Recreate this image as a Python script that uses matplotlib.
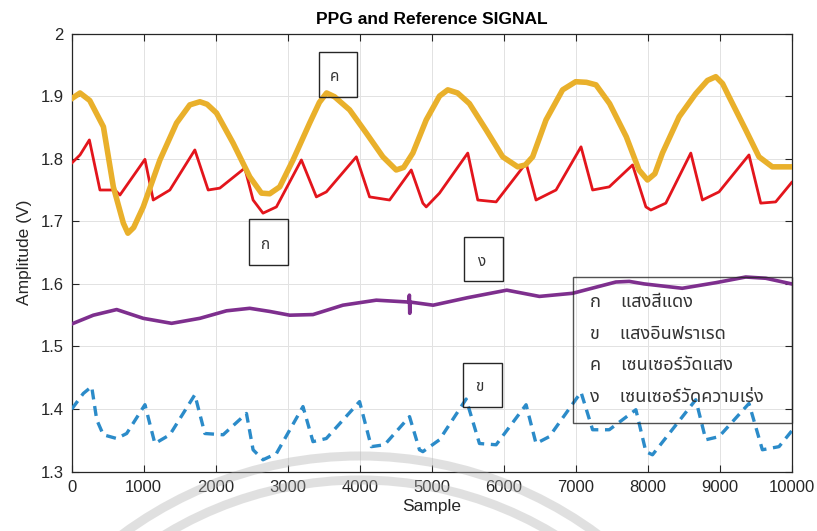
import matplotlib

matplotlib.use("Agg")
import matplotlib.pyplot as plt
from matplotlib import font_manager
from matplotlib.patches import Circle, Rectangle

# Fonts: Latin text in an Arial-like face, Thai glyphs from whatever Thai font is installed
installed = {f.name for f in font_manager.fontManager.ttflist}
thai_candidates = ["Noto Sans Thai", "Noto Sans Thai Looped", "Noto Serif Thai", "Loma",
                   "Garuda", "Norasi", "Kinnari", "Sarabun", "Tahoma", "Leelawadee UI"]
thai_fonts = [f for f in thai_candidates if f in installed]
plt.rcParams["font.family"] = ["Liberation Sans"] + thai_fonts + ["DejaVu Sans"]

# ---- data ----
red_x = [0, 115, 245, 392, 600, 670, 1017, 1132, 1363, 1710, 1895, 2057, 2404, 2519,
         2657, 2843, 3190, 3398, 3537, 3953, 4137, 4415, 4716, 4877, 4924, 5108, 5501,
         5640, 5895, 6311, 6449, 6727, 7074, 7235, 7466, 7790, 7975, 8044, 8252, 8599,
         8760, 8991, 9407, 9570, 9778, 10000]
red_y = [1.793, 1.806, 1.830, 1.750, 1.750, 1.742, 1.799, 1.734, 1.750, 1.814, 1.750,
         1.753, 1.785, 1.734, 1.713, 1.723, 1.798, 1.739, 1.747, 1.803, 1.739, 1.734,
         1.782, 1.729, 1.723, 1.745, 1.809, 1.734, 1.731, 1.793, 1.734, 1.750, 1.819,
         1.750, 1.755, 1.790, 1.723, 1.718, 1.729, 1.809, 1.734, 1.747, 1.806, 1.729,
         1.731, 1.762]

blue_x = [0, 161, 277, 347, 438, 624, 763, 1017, 1155, 1363, 1710, 1849, 2103, 2427,
          2519, 2657, 2843, 3212, 3351, 3536, 3998, 4161, 4346, 4692, 4830, 4877, 5108,
          5478, 5663, 5895, 6311, 6449, 6634, 7074, 7235, 7466, 7836, 7975, 8067, 8668,
          8807, 8991, 9407, 9593, 9824, 10000]
blue_y = [1.400, 1.425, 1.436, 1.383, 1.359, 1.353, 1.361, 1.407, 1.345, 1.359, 1.423,
          1.361, 1.359, 1.393, 1.335, 1.319, 1.329, 1.404, 1.348, 1.353, 1.412, 1.340,
          1.343, 1.388, 1.335, 1.332, 1.351, 1.416, 1.345, 1.343, 1.407, 1.345, 1.356,
          1.427, 1.367, 1.367, 1.399, 1.332, 1.327, 1.415, 1.351, 1.356, 1.409, 1.335,
          1.340, 1.365]

yellow_x = [0, 115, 250, 440, 578, 717, 780, 860, 993, 1225, 1456, 1640, 1780, 1880,
            2011, 2241, 2473, 2635, 2750, 2889, 3074, 3305, 3440, 3540, 3650, 3860, 4091,
            4322, 4507, 4610, 4738, 4924, 5108, 5223, 5360, 5524, 5756, 5986, 6195, 6300,
            6402, 6588, 6818, 7000, 7150, 7282, 7471, 7703, 7879, 7997, 8100, 8205, 8437,
            8668, 8830, 8946, 9040, 9130, 9362, 9546, 9731, 10000]
yellow_y = [1.896, 1.905, 1.893, 1.851, 1.755, 1.697, 1.681, 1.690, 1.723, 1.798, 1.857,
            1.886, 1.891, 1.887, 1.873, 1.825, 1.771, 1.745, 1.744, 1.755, 1.798, 1.857,
            1.890, 1.905, 1.899, 1.878, 1.841, 1.803, 1.782, 1.786, 1.809, 1.862, 1.900,
            1.910, 1.905, 1.888, 1.846, 1.803, 1.787, 1.790, 1.803, 1.862, 1.910, 1.923,
            1.922, 1.918, 1.888, 1.835, 1.782, 1.766, 1.776, 1.809, 1.867, 1.904, 1.925,
            1.931, 1.920, 1.899, 1.846, 1.803, 1.787, 1.787]

purple_x = [0, 300, 624, 993, 1387, 1780, 2150, 2473, 2750, 3028, 3351, 3767, 4230,
            4680, 4690, 4695, 4700, 5020, 5500, 6043, 6496, 6958, 7558, 7744, 7950, 8480,
            8950, 9362, 9640, 10000]
purple_y = [1.536, 1.550, 1.559, 1.545, 1.537, 1.545, 1.557, 1.561, 1.556, 1.550, 1.551,
            1.566, 1.574, 1.571, 1.582, 1.553, 1.571, 1.566, 1.578, 1.590, 1.580, 1.585,
            1.603, 1.604, 1.600, 1.593, 1.602, 1.611, 1.609, 1.600]

series_letters = ["ก", "ข", "ค", "ง"]
series_names = ["แสงสีแดง", "แสงอินฟราเรด", "เซนเซอร์วัดแสง", "เซนเซอร์วัดความเร่ง"]

# annotation boxes: letter, x0, x1, y0, y1 (data units)
note_boxes = [("ค", 3430, 3957, 1.898, 1.971),
              ("ก", 2463, 3010, 1.630, 1.703),
              ("ง", 5454, 5996, 1.604, 1.675),
              ("ข", 5441, 5982, 1.403, 1.474)]

fig = plt.figure(figsize=(8.17, 5.31), dpi=100)
ax = fig.add_axes([0.0878, 0.1117, 0.8812, 0.8252])

l_red, = ax.plot(red_x, red_y, color="#E3151C", lw=2.0, zorder=3)
l_blue, = ax.plot(blue_x, blue_y, color="#2B8BC9", lw=2.4, ls=(0, (3, 2)), zorder=3)
l_yel, = ax.plot(yellow_x, yellow_y, color="#E9B02B", lw=4.0, zorder=3,
                 solid_joinstyle="round")
l_pur, = ax.plot(purple_x, purple_y, color="#7E2F8E", lw=2.6, zorder=3)

ax.set_xlim(0, 10000)
ax.set_ylim(1.3, 2.0)
ax.set_xticks(range(0, 10001, 1000))
ax.set_yticks([1.3, 1.4, 1.5, 1.6, 1.7, 1.8, 1.9, 2.0])
ax.set_yticklabels(["1.3", "1.4", "1.5", "1.6", "1.7", "1.8", "1.9", "2"])
ax.grid(True, color="#e2e2e2", lw=0.7)
ax.set_axisbelow(True)
ax.tick_params(direction="in", top=True, right=True, length=5, width=0.8,
               colors="#262626", labelsize=12, pad=6)
for sp in ax.spines.values():
    sp.set_color("#262626")
    sp.set_linewidth(0.9)

ax.set_xlabel("Sample", fontsize=12.5, color="#262626", labelpad=3)
ax.set_ylabel("Amplitude (V)", fontsize=12.5, color="#262626", labelpad=6)
ax.set_title("PPG and Reference SIGNAL", fontsize=12.5, fontweight="bold", pad=7)

for letter, x0, x1, y0, y1 in note_boxes:
    ax.add_patch(Rectangle((x0, y0), x1 - x0, y1 - y0, fill=False, ec="#262626",
                           lw=1.0, zorder=5))
    ax.text(x0 + 0.42 * (x1 - x0), (y0 + y1) / 2 - 0.004, letter, ha="center",
            va="center", fontsize=11, color="#333333", zorder=6)

labels = [f"{a}    {b}" for a, b in zip(series_letters, series_names)]
leg = ax.legend([l_red, l_blue, l_yel, l_pur], labels, loc="upper left",
                bbox_to_anchor=(0.696, 0.102, 0.304, 0.342), mode="expand",
                borderaxespad=0, handlelength=0, handletextpad=0, fontsize=13,
                labelspacing=0.8, borderpad=0.95, frameon=True, fancybox=False)
frame = leg.get_frame()
frame.set_facecolor("none")
frame.set_edgecolor("#262626")
frame.set_linewidth(1.0)
for t in leg.get_texts():
    t.set_color("#333333")

# faint watermark rings across the bottom of the picture
for r in (4.00, 3.76):
    fig.add_artist(Circle((3.60, -3.25), r, transform=fig.dpi_scale_trans, fill=False,
                          lw=6.5, ec="#b0b0b0", alpha=0.38, zorder=20))

fig.savefig("out.png", dpi=100)
